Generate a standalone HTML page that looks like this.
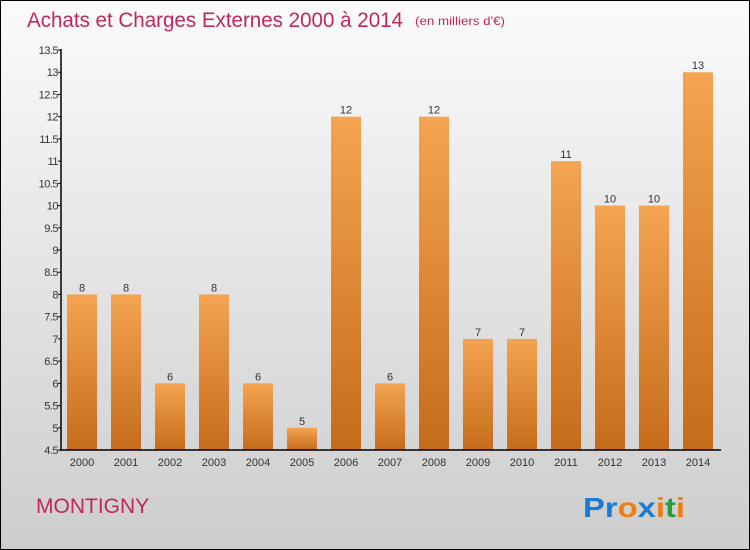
<!DOCTYPE html>
<html><head><meta charset="utf-8"><style>
body{margin:0}
svg{display:block;font-family:"Liberation Sans",sans-serif}
</style></head><body>
<svg id="c" width="750" height="550" xmlns="http://www.w3.org/2000/svg">
<defs>
<linearGradient id="bg" x1="0" y1="0" x2="0" y2="1"><stop offset="0" stop-color="#fbfbfb"/><stop offset="1" stop-color="#cdcdcd"/></linearGradient>
<linearGradient id="bar" x1="0" y1="0" x2="0" y2="1"><stop offset="0" stop-color="#f5a451"/><stop offset="1" stop-color="#c56c1b"/></linearGradient>
</defs>
<rect x="0.5" y="0.5" width="749" height="549" fill="url(#bg)" stroke="#000"/>
<text x="27" y="27" font-size="21" fill="#c0285a" textLength="376" lengthAdjust="spacingAndGlyphs">Achats et Charges Externes 2000 à 2014</text>
<text x="415" y="25" font-size="12" fill="#c0285a" textLength="90" lengthAdjust="spacingAndGlyphs">(en milliers d'€)</text>
<text x="36" y="513" font-size="21" fill="#c0285a">MONTIGNY</text>
<text x="583" y="517" font-size="28" font-weight="bold" textLength="102" lengthAdjust="spacingAndGlyphs"><tspan fill="#1a7ad4">Pr</tspan><tspan fill="#f07d10">o</tspan><tspan fill="#1a7ad4">x</tspan><tspan fill="#f07d10">i</tspan><tspan fill="#2a9a3a">t</tspan><tspan fill="#f07d10">i</tspan></text>
<g id="plot"></g>
</svg>
<script>
const years=["2000","2001","2002","2003","2004","2005","2006","2007","2008","2009","2010","2011","2012","2013","2014"];
const values=[8,8,6,8,6,5,12,6,12,7,7,11,10,10,13];
const ticks=[4.5,5,5.5,6,6.5,7,7.5,8,8.5,9,9.5,10,10.5,11,11.5,12,12.5,13,13.5];
const ns="http://www.w3.org/2000/svg";
const g=document.getElementById('plot');
const y=v=>450-(v-4.5)*400/9;
const x=i=>82+i*44;
function el(t,a){const e=document.createElementNS(ns,t);for(const k in a)e.setAttribute(k,a[k]);g.appendChild(e);return e;}
values.forEach((v,i)=>{
 const r=el('rect',{x:x(i)-15,y:y(v),width:30,height:450-y(v),fill:'url(#bar)'});
 
 
 const t=el('text',{x:x(i),y:y(v)-3,'font-size':11,'text-anchor':'middle',fill:'#333'});t.textContent=v;
 
 
 const l=el('text',{x:x(i),y:466,'font-size':11,'text-anchor':'middle',fill:'#333'});l.textContent=years[i];
 
 
});
ticks.forEach(t=>{
 el('line',{x1:58,x2:61,y1:y(t),y2:y(t),stroke:'#000'});
 const l=el('text',{x:58,y:y(t)+4,'font-size':11,'text-anchor':'end',fill:'#333','letter-spacing':'-0.5'});l.textContent=t;
 
 
});
const ax=el('line',{x1:61,x2:61,y1:49,y2:451,stroke:'#000','stroke-width':1.5});


const bx=el('line',{x1:60,x2:721,y1:450,y2:450,stroke:'#000','stroke-width':1.5});


</script>
</body></html>
